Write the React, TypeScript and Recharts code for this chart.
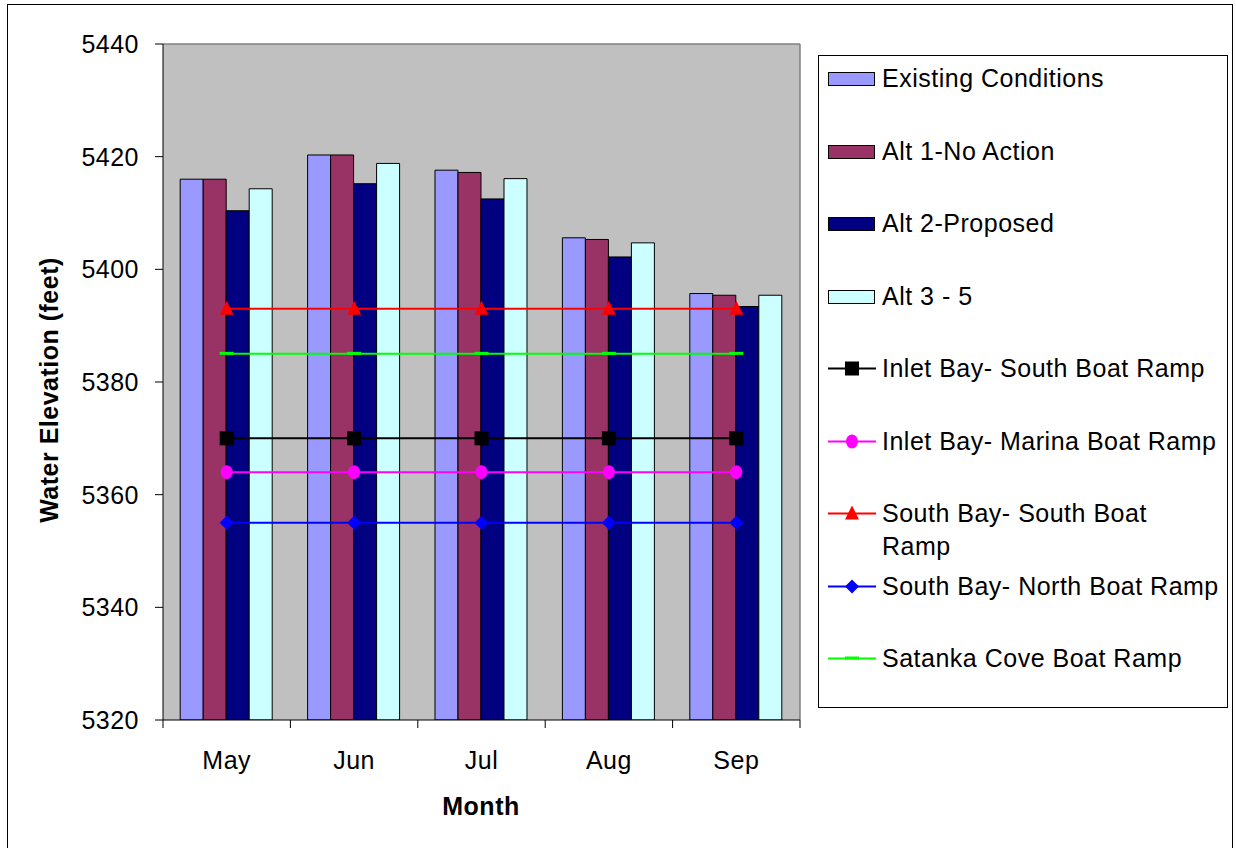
import { ComposedChart, Bar, Line, XAxis, YAxis, CartesianGrid, Legend } from "recharts";

const months = ["May", "Jun", "Jul", "Aug", "Sep"];
const existing = [5416.0, 5420.3, 5417.6, 5405.6, 5395.7];
const alt1 = [5416.0, 5420.3, 5417.2, 5405.3, 5395.4];
const alt2 = [5410.4, 5415.2, 5412.5, 5402.2, 5393.4];
const alt35 = [5414.3, 5418.8, 5416.1, 5404.7, 5395.4];
const inletSouth = [5370, 5370, 5370, 5370, 5370];
const inletMarina = [5364, 5364, 5364, 5364, 5364];
const southSouth = [5393, 5393, 5393, 5393, 5393];
const southNorth = [5355, 5355, 5355, 5355, 5355];
const satanka = [5385, 5385, 5385, 5385, 5385];
const yTicks = [5320, 5340, 5360, 5380, 5400, 5420, 5440];

const barSeries = [
  { key: "existing", name: "Existing Conditions", color: "#9999FF", values: existing },
  { key: "alt1", name: "Alt 1-No Action", color: "#993366", values: alt1 },
  { key: "alt2", name: "Alt 2-Proposed", color: "#000080", values: alt2 },
  { key: "alt35", name: "Alt 3 - 5", color: "#CCFFFF", values: alt35 },
];

const lineSeries = [
  { key: "inletSouth", name: "Inlet Bay- South Boat Ramp", color: "#000000", shape: "square", values: inletSouth },
  { key: "inletMarina", name: "Inlet Bay- Marina Boat Ramp", color: "#FF00FF", shape: "circle", values: inletMarina },
  { key: "southSouth", name: "South Bay- South Boat Ramp", color: "#FF0000", shape: "triangle", values: southSouth },
  { key: "southNorth", name: "South Bay- North Boat Ramp", color: "#0000FF", shape: "diamond", values: southNorth },
  { key: "satanka", name: "Satanka Cove Boat Ramp", color: "#00FF00", shape: "dash", values: satanka },
];

// legend wraps this one like the original
const legendLines: Record<string, string[]> = {
  "South Bay- South Boat Ramp": ["South Bay- South Boat", "Ramp"],
};

const data = months.map((month, i) => {
  const row: Record<string, any> = { month };
  barSeries.forEach((s) => (row[s.key] = s.values[i]));
  lineSeries.forEach((s) => (row[s.key] = s.values[i]));
  return row;
});

const W = 1224;
const H = 843;
const margin = { top: 39, right: 432, left: 0, bottom: 28 };
const yAxisWidth = 155;
const band = (W - margin.left - margin.right - yAxisWidth) / months.length;
const FS = 25;
const LS = 0.5;

function marker(shape: string, cx: number, cy: number, color: string) {
  switch (shape) {
    case "square":
      return <rect x={cx - 7} y={cy - 7} width={14} height={14} fill={color} />;
    case "circle":
      return <ellipse cx={cx} cy={cy} rx={6} ry={7} fill={color} />;
    case "triangle":
      return <polygon points={`${cx},${cy - 8} ${cx + 7},${cy + 6} ${cx - 7},${cy + 6}`} fill={color} />;
    case "diamond":
      return <polygon points={`${cx},${cy - 7} ${cx + 7},${cy} ${cx},${cy + 7} ${cx - 7},${cy}`} fill={color} />;
    default:
      return <rect x={cx - 7} y={cy - 2} width={14} height={3} fill={color} />;
  }
}

function MonthTick(props: any) {
  const { x, y, payload, index } = props;
  const last = index === months.length - 1;
  return (
    <g>
      <line x1={x - band / 2} y1={y} x2={x - band / 2} y2={y + 8} stroke="#000" />
      {last && <line x1={x + band / 2} y1={y} x2={x + band / 2} y2={y + 8} stroke="#000" />}
      <text x={x} y={y + 49} textAnchor="middle" fontSize={FS} letterSpacing={LS} fill="#000">
        {payload.value}
      </text>
    </g>
  );
}

function LegendBox() {
  const items = [
    ...barSeries.map((s) => ({ name: s.name, color: s.color, bar: true, shape: "" })),
    ...lineSeries.map((s) => ({ name: s.name, color: s.color, bar: false, shape: s.shape })),
  ];
  return (
    <div
      style={{
        width: 410,
        height: 653,
        border: "1px solid #000",
        boxSizing: "border-box",
        background: "#fff",
        paddingTop: 6,
      }}
    >
      {items.map((it) => (
        <div key={it.name} style={{ height: 72.5, display: "flex", alignItems: "flex-start" }}>
          <svg width={48} height={33} style={{ marginLeft: 9, flex: "none" }}>
            {it.bar ? (
              <rect x={0.5} y={10.5} width={46} height={13} fill={it.color} stroke="#000" />
            ) : (
              <g>
                <line x1={0} y1={16.5} x2={48} y2={16.5} stroke={it.color} strokeWidth={2} />
                {marker(it.shape, 24, 16.5, it.color)}
              </g>
            )}
          </svg>
          <div
            style={{
              marginLeft: 6,
              fontSize: FS,
              letterSpacing: LS,
              lineHeight: "33px",
              color: "#000",
              whiteSpace: "nowrap",
            }}
          >
            {(legendLines[it.name] || [it.name]).map((l) => (
              <div key={l}>{l}</div>
            ))}
          </div>
        </div>
      ))}
    </div>
  );
}

export default function App() {
  return (
    <div
      style={{
        position: "absolute",
        left: 7,
        top: 4,
        width: 1226,
        height: 860,
        border: "1px solid #000",
        boxSizing: "border-box",
        background: "#fff",
        fontFamily: "'Liberation Sans', Arial, sans-serif",
      }}
    >
      <ComposedChart width={W} height={H} data={data} margin={margin} barCategoryGap="13.5%" barGap={0}>
        <CartesianGrid
          fill="#C0C0C0"
          stroke="#808080"
          strokeWidth={1.5}
          horizontalCoordinatesGenerator={({ offset }: any) => [offset.top]}
          verticalCoordinatesGenerator={({ offset }: any) => [offset.left + offset.width]}
        />
        <XAxis
          dataKey="month"
          height={100}
          stroke="#000"
          tickLine={false}
          tickSize={0}
          tickMargin={0}
          tick={<MonthTick />}
          interval={0}
          label={{
            content: () => (
              <text x={473} y={810} textAnchor="middle" fontSize={FS} letterSpacing={LS} fontWeight="bold" fill="#000">
                Month
              </text>
            ),
          }}
        />
        <YAxis
          width={yAxisWidth}
          domain={[5320, 5440]}
          ticks={yTicks}
          allowDataOverflow
          stroke="#000"
          tickSize={8}
          tickMargin={16}
          tick={{ fill: "#000", fontSize: FS, letterSpacing: LS }}
          label={{
            content: () => (
              <text
                x={41}
                y={385}
                transform="rotate(-90 41 385)"
                textAnchor="middle"
                dominantBaseline="central"
                fontSize={FS}
                letterSpacing={LS}
                fontWeight="bold"
                fill="#000"
              >
                Water Elevation (feet)
              </text>
            ),
          }}
        />
        {barSeries.map((s) => (
          <Bar key={s.key} dataKey={s.key} name={s.name} fill={s.color} stroke="#000" strokeWidth={1} isAnimationActive={false} />
        ))}
        {lineSeries.map((s) => (
          <Line
            key={s.key}
            dataKey={s.key}
            name={s.name}
            stroke={s.color}
            strokeWidth={2}
            isAnimationActive={false}
            activeDot={false}
            dot={(p: any) => <g key={`${s.key}-${p.index}`}>{marker(s.shape, p.cx, p.cy, s.color)}</g>}
          />
        ))}
        <Legend
          layout="horizontal"
          verticalAlign="middle"
          align="center"
          wrapperStyle={{ left: 810, top: 50, width: 410, height: 653 }}
          content={() => <LegendBox />}
        />
      </ComposedChart>
    </div>
  );
}
